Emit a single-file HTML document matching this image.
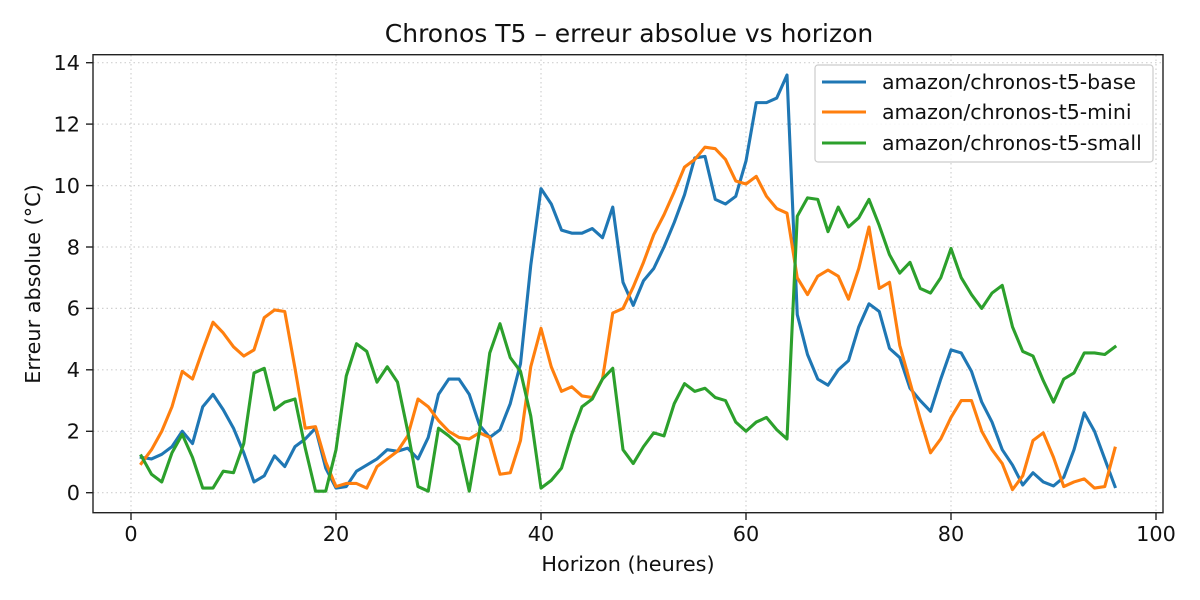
<!DOCTYPE html>
<html><head><meta charset="utf-8"><style>
html,body{margin:0;padding:0;background:#fff;}
svg{display:block;font-family:"DejaVu Sans","Liberation Sans",sans-serif;}
</style></head><body>
<svg width="1200" height="600" viewBox="0 0 1200 600" xmlns="http://www.w3.org/2000/svg">
<rect width="1200" height="600" fill="#fff"/>
<g stroke="#d0d0d0" stroke-width="1.2" stroke-dasharray="1.5,3">
<line x1="131" y1="55" x2="131" y2="512"/><line x1="336" y1="55" x2="336" y2="512"/><line x1="541" y1="55" x2="541" y2="512"/><line x1="746" y1="55" x2="746" y2="512"/><line x1="951" y1="55" x2="951" y2="512"/><line x1="1156" y1="55" x2="1156" y2="512"/>
<line x1="93" y1="492.7" x2="1163" y2="492.7"/><line x1="93" y1="431.3" x2="1163" y2="431.3"/><line x1="93" y1="369.8" x2="1163" y2="369.8"/><line x1="93" y1="308.4" x2="1163" y2="308.4"/><line x1="93" y1="247" x2="1163" y2="247"/><line x1="93" y1="185.6" x2="1163" y2="185.6"/><line x1="93" y1="124.1" x2="1163" y2="124.1"/><line x1="93" y1="62.7" x2="1163" y2="62.7"/>
</g>
<g transform="translate(131,492.7) scale(10.25,-30.714)" fill="none" stroke-width="3.1" stroke-linejoin="round" stroke-linecap="square">
<polyline vector-effect="non-scaling-stroke" stroke="#1f77b4" points="1,1.15 2,1.1 3,1.25 4,1.5 5,2.0 6,1.6 7,2.8 8,3.2 9,2.7 10,2.1 11,1.3 12,0.35 13,0.55 14,1.2 15,0.85 16,1.5 17,1.75 18,2.1 19,0.8 20,0.15 21,0.2 22,0.7 23,0.9 24,1.1 25,1.4 26,1.35 27,1.45 28,1.1 29,1.8 30,3.2 31,3.7 32,3.7 33,3.2 34,2.2 35,1.8 36,2.05 37,2.9 38,4.2 39,7.4 40,9.9 41,9.4 42,8.55 43,8.45 44,8.45 45,8.6 46,8.3 47,9.3 48,6.85 49,6.1 50,6.9 51,7.3 52,8.0 53,8.8 54,9.7 55,10.9 56,10.95 57,9.55 58,9.4 59,9.65 60,10.8 61,12.7 62,12.7 63,12.85 64,13.6 65,5.8 66,4.5 67,3.7 68,3.5 69,4.0 70,4.3 71,5.4 72,6.15 73,5.9 74,4.7 75,4.4 76,3.4 77,3.0 78,2.65 79,3.7 80,4.65 81,4.55 82,3.95 83,2.95 84,2.3 85,1.4 86,0.9 87,0.25 88,0.65 89,0.35 90,0.22 91,0.5 92,1.4 93,2.6 94,2.0 95,1.1 96,0.2"/>
<polyline vector-effect="non-scaling-stroke" stroke="#ff7f0e" points="1,0.95 2,1.4 3,2.0 4,2.8 5,3.95 6,3.7 7,4.65 8,5.55 9,5.2 10,4.75 11,4.45 12,4.65 13,5.7 14,5.95 15,5.9 16,4.05 17,2.1 18,2.15 19,1.0 20,0.2 21,0.3 22,0.3 23,0.15 24,0.85 25,1.1 26,1.35 27,1.85 28,3.05 29,2.8 30,2.35 31,2.0 32,1.8 33,1.75 34,1.95 35,1.8 36,0.6 37,0.65 38,1.7 39,4.1 40,5.35 41,4.1 42,3.3 43,3.45 44,3.15 45,3.1 46,3.7 47,5.85 48,6.0 49,6.7 50,7.5 51,8.4 52,9.05 53,9.8 54,10.6 55,10.85 56,11.25 57,11.2 58,10.85 59,10.15 60,10.05 61,10.3 62,9.65 63,9.25 64,9.1 65,7.0 66,6.45 67,7.05 68,7.25 69,7.05 70,6.3 71,7.3 72,8.65 73,6.65 74,6.85 75,4.8 76,3.6 77,2.4 78,1.3 79,1.75 80,2.45 81,3.0 82,3.0 83,2.0 84,1.4 85,0.95 86,0.1 87,0.55 88,1.7 89,1.95 90,1.15 91,0.2 92,0.35 93,0.45 94,0.15 95,0.2 96,1.45"/>
<polyline vector-effect="non-scaling-stroke" stroke="#2ca02c" points="1,1.2 2,0.6 3,0.35 4,1.3 5,1.9 6,1.15 7,0.15 8,0.15 9,0.7 10,0.65 11,1.6 12,3.9 13,4.05 14,2.7 15,2.95 16,3.05 17,1.45 18,0.05 19,0.05 20,1.4 21,3.8 22,4.85 23,4.6 24,3.6 25,4.1 26,3.6 27,2.0 28,0.2 29,0.05 30,2.1 31,1.85 32,1.55 33,0.05 34,2.0 35,4.55 36,5.5 37,4.4 38,3.95 39,2.5 40,0.15 41,0.4 42,0.8 43,1.9 44,2.8 45,3.05 46,3.7 47,4.05 48,1.4 49,0.95 50,1.5 51,1.95 52,1.85 53,2.9 54,3.55 55,3.3 56,3.4 57,3.1 58,3.0 59,2.3 60,2.0 61,2.3 62,2.45 63,2.05 64,1.75 65,9.0 66,9.6 67,9.55 68,8.5 69,9.3 70,8.65 71,8.95 72,9.55 73,8.7 74,7.75 75,7.15 76,7.5 77,6.65 78,6.5 79,7.0 80,7.95 81,7.0 82,6.45 83,6.0 84,6.5 85,6.75 86,5.4 87,4.6 88,4.45 89,3.65 90,2.95 91,3.7 92,3.9 93,4.55 94,4.55 95,4.5 96,4.75"/>
</g>
<rect x="93" y="54.7" width="1070" height="458" fill="none" stroke="#222" stroke-width="1.4"/>
<g stroke="#222" stroke-width="1.4">
<line x1="131" y1="513" x2="131" y2="520"/><line x1="336" y1="513" x2="336" y2="520"/><line x1="541" y1="513" x2="541" y2="520"/><line x1="746" y1="513" x2="746" y2="520"/><line x1="951" y1="513" x2="951" y2="520"/><line x1="1156" y1="513" x2="1156" y2="520"/>
<line x1="86" y1="492.7" x2="93" y2="492.7"/><line x1="86" y1="431.3" x2="93" y2="431.3"/><line x1="86" y1="369.8" x2="93" y2="369.8"/><line x1="86" y1="308.4" x2="93" y2="308.4"/><line x1="86" y1="247" x2="93" y2="247"/><line x1="86" y1="185.6" x2="93" y2="185.6"/><line x1="86" y1="124.1" x2="93" y2="124.1"/><line x1="86" y1="62.7" x2="93" y2="62.7"/>
</g>
<g font-size="20.8" fill="#111" text-anchor="middle">
<text x="131" y="541">0</text><text x="336" y="541">20</text><text x="541" y="541">40</text><text x="746" y="541">60</text><text x="951" y="541">80</text><text x="1156" y="541">100</text>
</g>
<g font-size="20.8" fill="#111" text-anchor="end">
<text x="80" y="500">0</text><text x="80" y="438.6">2</text><text x="80" y="377.1">4</text><text x="80" y="315.7">6</text><text x="80" y="254.3">8</text><text x="80" y="192.9">10</text><text x="80" y="131.4">12</text><text x="80" y="70">14</text>
</g>
<text x="628" y="571" font-size="20.8" text-anchor="middle" fill="#111">Horizon (heures)</text>
<text transform="translate(40,284) rotate(-90)" font-size="20.8" text-anchor="middle" fill="#111">Erreur absolue (°C)</text>
<text x="629" y="42" font-size="25" text-anchor="middle" fill="#111">Chronos T5 – erreur absolue vs horizon</text>
<rect x="815" y="65" width="338" height="97" rx="3" fill="#fff" fill-opacity="0.85" stroke="#ccc" stroke-width="1.2"/>
<g stroke-width="3.1">
<line x1="822" y1="82" x2="866" y2="82" stroke="#1f77b4"/>
<line x1="822" y1="112" x2="866" y2="112" stroke="#ff7f0e"/>
<line x1="822" y1="143" x2="866" y2="143" stroke="#2ca02c"/>
</g>
<g font-size="20.5" fill="#111">
<text x="882" y="89">amazon/chronos-t5-base</text>
<text x="882" y="119">amazon/chronos-t5-mini</text>
<text x="882" y="150">amazon/chronos-t5-small</text>
</g>
</svg>
</body></html>
